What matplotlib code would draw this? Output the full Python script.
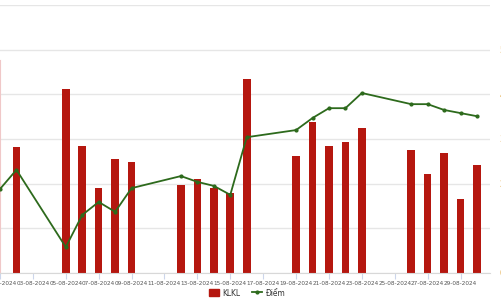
import pandas as pd
import matplotlib
matplotlib.use('Agg')
import matplotlib.pyplot as plt
import matplotlib.dates as mdates
from matplotlib.patches import Patch
from matplotlib.lines import Line2D

plt.rcParams['font.family'] = ['DejaVu Sans']
plt.rcParams['font.stretch'] = 'condensed'

# ngày giao dịch tháng 8/2024
bar_days = [2, 5, 6, 7, 8, 9, 12, 13, 14, 15, 16, 19, 20, 21, 22, 23, 26, 27, 28, 29, 30]
klkl = [2.82, 4.12, 2.84, 1.90, 2.55, 2.48, 1.97, 2.10, 1.90, 1.79, 4.34,
        2.62, 3.38, 2.84, 2.93, 3.25, 2.75, 2.22, 2.69, 1.66, 2.42]

line_days = [1, 2, 5, 6, 7, 8, 9, 12, 13, 14, 15, 16, 19, 20, 21, 22, 23, 26, 27, 28, 29, 30]
diem = [1.88, 2.31, 0.58, 1.30, 1.59, 1.37, 1.90, 2.17, 2.04, 1.95, 1.75, 3.04,
        3.20, 3.47, 3.69, 3.69, 4.03, 3.78, 3.78, 3.65, 3.58, 3.51]

tick_days = list(range(1, 30, 2))

bar_x = pd.to_datetime(['2024-08-%02d' % d for d in bar_days])
line_x = pd.to_datetime(['2024-08-%02d' % d for d in line_days])
tick_x = pd.to_datetime(['2024-08-%02d' % d for d in tick_days])

fig = plt.figure(figsize=(5.01, 3.0), dpi=100)
ax = fig.add_axes([0.0, 27 / 300, 490 / 501, 268 / 300])
ax2 = ax.twinx()

ax.bar(bar_x, klkl, width=0.46, color='#b5170f', zorder=2)
ax2.plot(line_x, diem, color='#2d6a1c', lw=1.3, marker='o', ms=2, zorder=3)

x0 = pd.Timestamp('2024-08-01') + pd.Timedelta(days=0.215)
x1 = pd.Timestamp('2024-08-30') + pd.Timedelta(days=0.79)
ax.set_xlim(x0, x1)
ax.set_ylim(0, 6)
ax2.set_ylim(0, 6)

ax.set_yticks(range(0, 7))
ax.set_yticklabels([])
ax.tick_params(axis='y', length=0)
ax.grid(axis='y', color='#e6e6e6', lw=1, zorder=0)
ax.set_axisbelow(True)

ax.set_xticks(tick_x)
ax.xaxis.set_major_formatter(mdates.DateFormatter('%d-%m-%Y'))
ax.tick_params(axis='x', length=4, color='#ccd6eb', labelsize=4.6,
               labelcolor='#555555', pad=2)

ax2.set_yticks(range(0, 6))
ax2.tick_params(axis='y', length=0, pad=7, labelsize=6, labelcolor='#e0a030')

for a in (ax, ax2):
    a.spines['top'].set_visible(False)
    a.spines['right'].set_visible(False)
ax2.spines['left'].set_visible(False)
ax2.spines['bottom'].set_visible(False)
ax.spines['bottom'].set_color('#d8d8d8')
ax.spines['left'].set_color('#f0c8c8')
ax.spines['left'].set_bounds(0, 4.77)

handles = [Patch(color='#b5170f', label='KLKL'),
           Line2D([], [], color='#2d6a1c', lw=1.3, marker='o', ms=2, label='Điểm')]
fig.legend(handles=handles, loc='center', bbox_to_anchor=(247 / 501, 1 - 293 / 300),
           ncol=2, frameon=False, fontsize=6, handlelength=1.2, handleheight=1.0,
           handletextpad=0.4, columnspacing=1.5, labelcolor='#333333')

plt.savefig('out.png', dpi=100)
